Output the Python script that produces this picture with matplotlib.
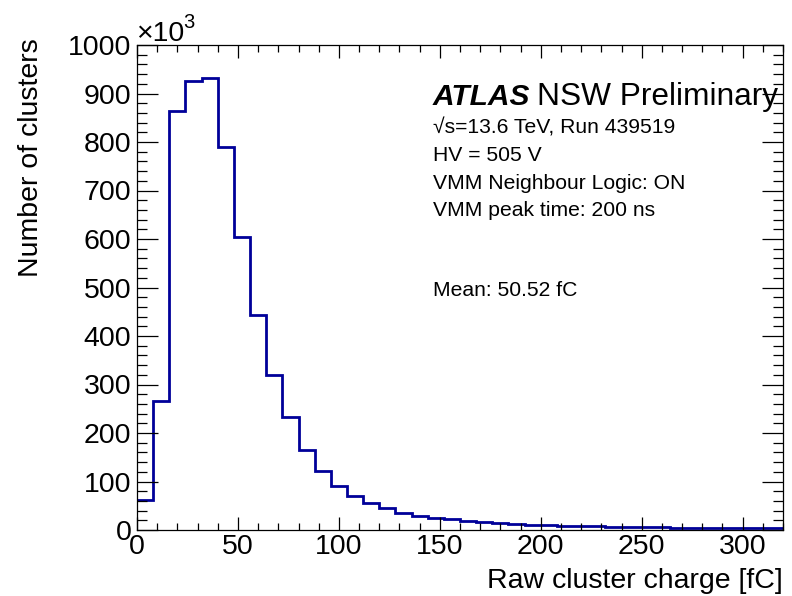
import matplotlib
matplotlib.use("Agg")
import matplotlib.pyplot as plt
import numpy as np
from matplotlib.ticker import MultipleLocator

plt.rcParams['font.family'] = ['Liberation Sans', 'DejaVu Sans']

# Histogram data (counts in units of 10^3 clusters), 8 fC bins from 0 to 320 fC
bin_edges = list(range(0, 321, 8))
counts_k = [62, 267, 863, 925, 931, 789, 605, 444, 319, 232,
            165, 122, 90, 70, 55, 45, 36, 29, 25, 22,
            19, 16, 14, 12, 11, 10, 9, 8, 7.5, 7,
            6.5, 6, 5.5, 5, 4.5, 4.3, 4, 3.7, 3.5, 3.2]

info_lines = ["\u221as=13.6 TeV, Run 439519",
              "HV = 505 V",
              "VMM Neighbour Logic: ON",
              "VMM peak time: 200 ns"]
mean_text = "Mean: 50.52 fC"

W, H = 792, 596
fig = plt.figure(figsize=(W / 100, H / 100), dpi=100)
ax = fig.add_axes([137 / W, 1 - 530 / H, (783 - 137) / W, (530 - 45) / H])

ax.stairs(counts_k, bin_edges, color='#000099', lw=2.0, baseline=None)

ax.set_xlim(0, 320)
ax.set_ylim(0, 1000)
ax.xaxis.set_major_locator(MultipleLocator(50))
ax.xaxis.set_minor_locator(MultipleLocator(10))
ax.yaxis.set_major_locator(MultipleLocator(100))
ax.yaxis.set_minor_locator(MultipleLocator(20))

for s in ax.spines.values():
    s.set_linewidth(0.9)

ax.tick_params(axis='x', which='major', direction='in', length=9.5, width=0.9,
               top=True, labelsize=20.5, pad=3)
ax.tick_params(axis='x', which='minor', direction='in', length=4.7, width=0.9, top=True)
ax.tick_params(axis='y', which='major', direction='in', length=15, width=0.9,
               right=True, labelsize=20.5, pad=4)
ax.tick_params(axis='y', which='minor', direction='in', length=7.5, width=0.9, right=True)

fig.text(783 / W, 1 - 588 / H, "Raw cluster charge [fC]", fontsize=20.5,
         ha='right', va='baseline')
fig.text(31 / W, 1 - 38 / H, "Number of clusters", fontsize=20.5, rotation=90,
         ha='center', va='top')

# x10^3 multiplier
fig.text(136 / W, 1 - 41 / H, "\u00d710", fontsize=20.5, ha='left', va='baseline')
fig.text(183 / W, 1 - 28 / H, "3", fontsize=14.5, ha='left', va='baseline')

# ATLAS label
fig.text(433 / W, 1 - 105 / H, "ATLAS", fontsize=21.5, fontweight='bold',
         fontstyle='italic', ha='left', va='baseline')
fig.text(537 / W, 1 - 105 / H, "NSW Preliminary", fontsize=22.8,
         ha='left', va='baseline')

ys = [133, 161, 189, 216]
for y, line in zip(ys, info_lines):
    fig.text(433 / W, 1 - y / H, line, fontsize=15.2, ha='left', va='baseline')
fig.text(433 / W, 1 - 296 / H, mean_text, fontsize=15.2, ha='left', va='baseline')

fig.savefig("out.png", dpi=100)
